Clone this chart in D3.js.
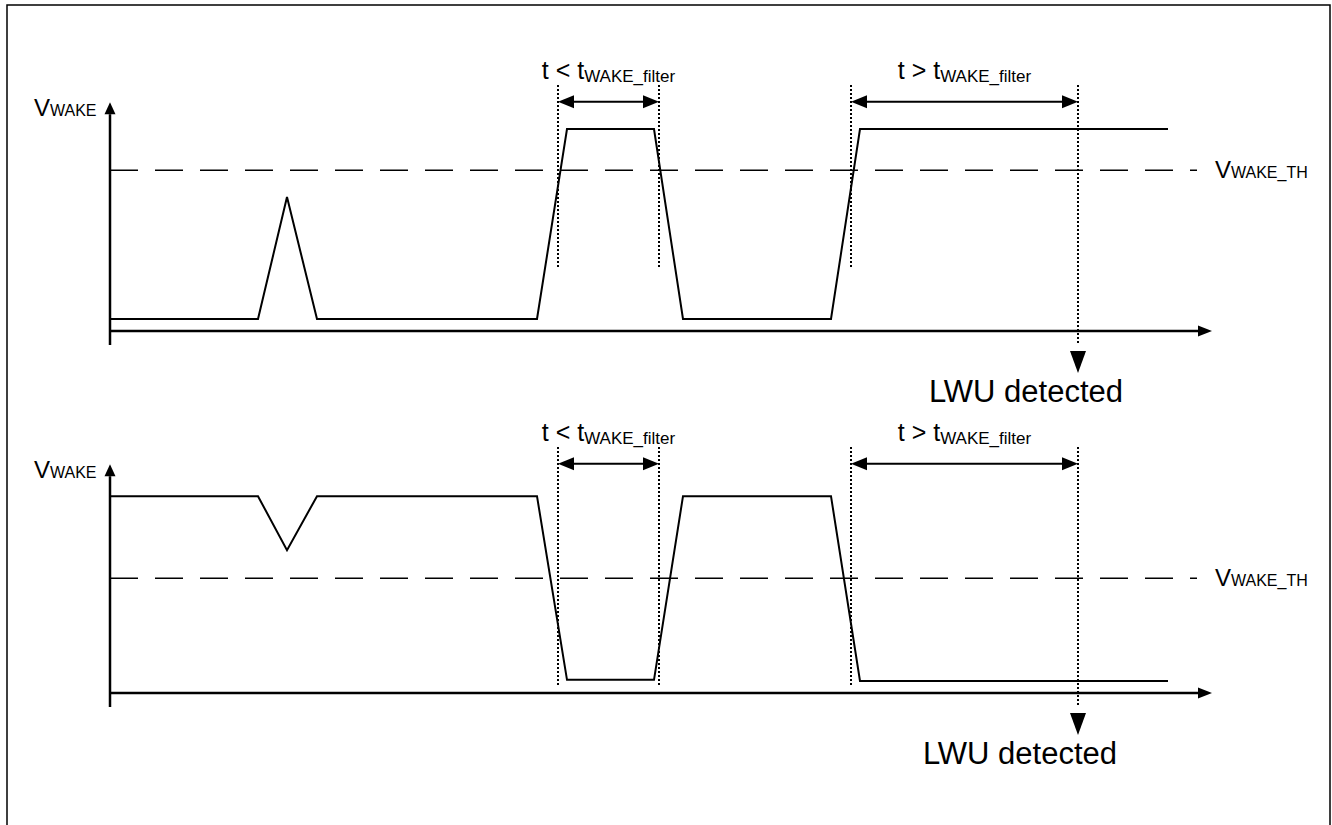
<!DOCTYPE html>
<html><head><meta charset="utf-8">
<script src="https://cdn.jsdelivr.net/npm/d3@7"></script>
<style>html,body{margin:0;padding:0;background:#fff;} svg{display:block;font-family:"Liberation Sans",Arial,sans-serif;}</style>
</head><body>
<script>
// ---- data (time units, voltage units) ----
const timeMax = 110.2;
const topSignalT = [0, 14.8, 17.7, 20.7, 42.7, 45.7, 54.4, 57.3, 72.1, 75.0, 105.8];
const topSignalV = [0.3, 0.3, 3.35, 0.3, 0.3, 5.05, 5.05, 0.3, 0.3, 5.05, 5.05];
const botSignalT = [0, 14.8, 17.7, 20.7, 42.7, 45.7, 54.4, 57.3, 72.1, 75.0, 105.8];
const botSignalV = [4.92, 4.92, 3.57, 4.92, 4.92, 0.33, 0.33, 4.92, 4.92, 0.3, 0.3];
const topThreshold = 4.02;
const botThreshold = 2.87;
const markerT = [44.8, 54.9, 74.1, 96.8];      // dotted verticals
const spans = [[44.8, 54.9, "<"], [74.1, 96.8, ">"]];
const detectT = 96.8;
const labels = {v: "V", vsub: "WAKE", th: "WAKE_TH", tsub: "WAKE_filter", lwu: "LWU detected"};

const W = 1332, H = 825;
const svg = d3.select("body").append("svg").attr("width", W).attr("height", H);

// border (top, left, right)
svg.append("path").attr("d", `M7,825 L7,5 L1330,5 L1330,825`).attr("fill","none").attr("stroke","#000").attr("stroke-width",1.5);

const x = d3.scaleLinear().domain([0, 110]).range([110, 1210]);

function panel(y0, sigT, sigV, thr, markerBottom, lwuShift) {
  const y = d3.scaleLinear().domain([0, 5]).range([y0, y0 - 200]);
  const g = svg.append("g");
  // threshold dashed line
  g.append("line").attr("x1", x(0)).attr("x2", x(108.7)).attr("y1", y(thr)).attr("y2", y(thr))
    .attr("stroke","#000").attr("stroke-width",1.5).attr("stroke-dasharray","28,17");
  // threshold label
  const th = g.append("text").attr("x", x(110.5)).attr("y", y(thr) + 8).attr("fill","#000");
  th.append("tspan").attr("font-size", 24).text(labels.v);
  th.append("tspan").attr("font-size", 16).text(labels.th);
  // y axis
  g.append("line").attr("x1", x(0)).attr("x2", x(0)).attr("y1", y(-0.35)).attr("y2", y(5.42))
    .attr("stroke","#000").attr("stroke-width",2.5);
  g.append("path").attr("d", `M${x(0)},${y(5.72)} L${x(0)-5.5},${y(5.42)} L${x(0)+5.5},${y(5.42)} Z`).attr("fill","#000");
  const vl = g.append("text").attr("x", 34).attr("y", y(5.37)).attr("fill","#000");
  vl.append("tspan").attr("font-size", 24).text(labels.v);
  vl.append("tspan").attr("font-size", 16).text(labels.vsub);
  // x axis
  g.append("line").attr("x1", x(0)).attr("x2", x(timeMax-1.4)).attr("y1", y(0)).attr("y2", y(0))
    .attr("stroke","#000").attr("stroke-width",2.5);
  g.append("path").attr("d", `M${x(timeMax)},${y(0)} L${x(timeMax-1.4)},${y(0)-5.5} L${x(timeMax-1.4)},${y(0)+5.5} Z`).attr("fill","#000");
  // signal
  const line = d3.line().x(d => x(d[0])).y(d => y(d[1]));
  g.append("path").attr("d", line(sigT.map((t,i)=>[t, sigV[i]]))).attr("fill","none")
    .attr("stroke","#000").attr("stroke-width",2).attr("stroke-linejoin","miter");
  // dotted markers
  markerT.forEach((t,i) => {
    const isDet = t === detectT;
    g.append("line").attr("x1", x(t)).attr("x2", x(t)).attr("y1", y(6.15))
      .attr("y2", isDet ? y(-0.35) : y(markerBottom))
      .attr("stroke","#000").attr("stroke-width",2).attr("stroke-dasharray","2,2");
  });
  // detection arrow
  g.append("path").attr("d", `M${x(detectT)},${y(-1.05)} L${x(detectT)-8},${y(-0.5)} L${x(detectT)+8},${y(-0.5)} Z`).attr("fill","#000");
  g.append("text").attr("x", x(detectT) + lwuShift).attr("y", y(-1.78)).attr("text-anchor","middle")
    .attr("font-size", 31).attr("fill","#000").text(labels.lwu);
  // spans
  spans.forEach(s => {
    const ya = y(5.73);
    const a = x(s[0]), b = x(s[1]);
    g.append("line").attr("x1", a+14).attr("x2", b-14).attr("y1", ya).attr("y2", ya).attr("stroke","#000").attr("stroke-width",2);
    g.append("path").attr("d", `M${a},${ya} L${a+16},${ya-6.5} L${a+16},${ya+6.5} Z`).attr("fill","#000");
    g.append("path").attr("d", `M${b},${ya} L${b-16},${ya-6.5} L${b-16},${ya+6.5} Z`).attr("fill","#000");
    const tx = g.append("text").attr("x", (a+b)/2).attr("y", y(6.3)).attr("text-anchor","middle").attr("fill","#000");
    tx.append("tspan").attr("font-size", 25).text(`t ${s[2]} t`);
    tx.append("tspan").attr("font-size", 17).attr("dy", 3).text(labels.tsub);
  });
}

panel(331, topSignalT, topSignalV, topThreshold, 1.57, -52);
panel(693, botSignalT, botSignalV, botThreshold, 0.15, -58);
</script>
</body></html>
